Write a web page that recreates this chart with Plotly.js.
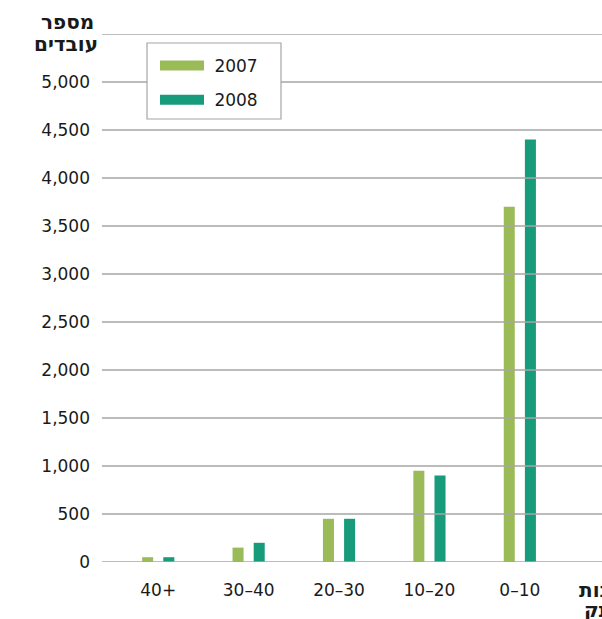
<!DOCTYPE html>
<html>
<head>
<meta charset="utf-8">
<script src="https://cdn.plot.ly/plotly-3.0.1.min.js"></script>
<style>html,body{margin:0;padding:0;background:#fff;}#chart{width:602px;height:619px;}</style>
</head>
<body>
<div id="chart"></div>
<script>
var categories = ["40+", "30–40", "20–30", "10–20", "0–10"];
var series2007 = [50, 150, 450, 950, 3700];
var series2008 = [50, 200, 450, 900, 4400];
var seriesNames = ["2007", "2008"];
var yTickVals = [0, 500, 1000, 1500, 2000, 2500, 3000, 3500, 4000, 4500, 5000];
var gridVals = [0, 500, 1000, 1500, 2000, 2500, 3000, 3500, 4000, 4500, 5000, 5500];
var yTitleLines = ["מספר", "עובדים"];
var xTitleLines = ["שנות", "ותק"];

var c2007 = "#9bbb59";
var c2008 = "#179b7b";
var font = "DejaVu Sans, Verdana, sans-serif";

var traces = [
  {type: "bar", x: categories, y: series2007, name: seriesNames[0], marker: {color: c2007}, width: 0.122, offset: -0.178, showlegend: false, hoverinfo: "none"},
  {type: "bar", x: categories, y: series2008, name: seriesNames[1], marker: {color: c2008}, width: 0.122, offset: 0.056, showlegend: false, hoverinfo: "none"},
  {type: "scatter", mode: "lines", x: [null], y: [null], name: "&nbsp;" + seriesNames[0], legendgroup: "a", line: {color: c2007, width: 10}},
  {type: "scatter", mode: "lines", x: [null], y: [null], name: "&nbsp;" + seriesNames[1], legendgroup: "b", line: {color: c2008, width: 10}}
];

var shapes = gridVals.map(function (v) {
  return {type: "line", xref: "paper", yref: "y", x0: 0, x1: 1, y0: v, y1: v, layer: "above", line: {color: "#a6a6a6", width: 1.5}};
});
shapes.push({type: "rect", xref: "paper", yref: "paper", x0: 0.09, x1: 0.358, y0: 0.839, y1: 0.983, layer: "above", fillcolor: "#fff", line: {color: "#a6a6a6", width: 1.2}});

// paper y for a pixel row: (562 - px) / 528
var titleFont = {size: 20, color: "#1a1a1a"};
var annotations = [
  {text: "<b>" + yTitleLines[0] + "</b>", xref: "paper", yref: "paper", x: -0.012, y: (562 - 22) / 528, xanchor: "right", yanchor: "middle", showarrow: false, font: titleFont},
  {text: "<b>" + yTitleLines[1] + "</b>", xref: "paper", yref: "paper", x: -0.004, y: (562 - 44) / 528, xanchor: "right", yanchor: "middle", showarrow: false, font: titleFont},
  {text: "<b>" + xTitleLines[0] + "</b>", xref: "paper", yref: "paper", x: 0.95, y: (562 - 590) / 528, xanchor: "left", yanchor: "middle", showarrow: false, font: titleFont},
  {text: "<b>" + xTitleLines[1] + "</b>", xref: "paper", yref: "paper", x: 0.96, y: (562 - 610) / 528, xanchor: "left", yanchor: "middle", showarrow: false, font: titleFont}
];

var layout = {
  width: 602, height: 619,
  margin: {l: 102, r: 0, t: 34, b: 57, pad: 0},
  paper_bgcolor: "#fff", plot_bgcolor: "#fff",
  font: {family: font, size: 17, color: "#1a1a1a"},
  barmode: "overlay",
  xaxis: {
    type: "category", range: [-0.622, 4.909], showgrid: false, zeroline: false, showline: false,
    ticks: "", ticklabelstandoff: 16, tickfont: {size: 17}, fixedrange: true
  },
  yaxis: {
    range: [0, 5500], tickvals: yTickVals, tickformat: ",d", showgrid: false, zeroline: false, showline: false,
    ticks: "", ticklabelstandoff: 11, tickfont: {size: 17}, fixedrange: true
  },
  shapes: shapes,
  legend: {
    x: 0.106, y: 0.9735, xanchor: "left", yanchor: "top",
    borderwidth: 0, bgcolor: "rgba(0,0,0,0)",
    font: {size: 17, color: "#1a1a1a"}, itemwidth: 44, tracegroupgap: 9
  },
  annotations: annotations
};

Plotly.newPlot("chart", traces, layout, {displayModeBar: false, staticPlot: true});
</script>
</body>
</html>
